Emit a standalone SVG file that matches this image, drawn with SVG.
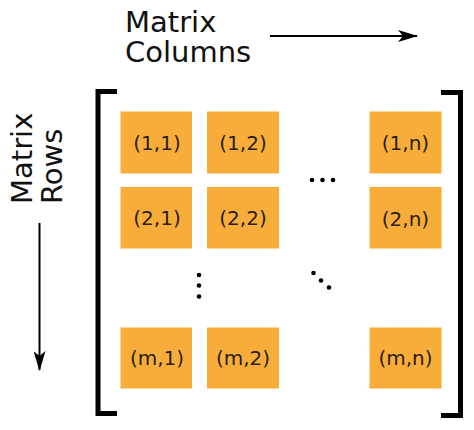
<svg xmlns="http://www.w3.org/2000/svg" width="474" height="430" viewBox="0 0 474 430">
  <style>
    .cell { fill: #F8AD3B; }
    .ct { font-family: "DejaVu Sans", Verdana, sans-serif; font-size: 20px; fill: #2a1e0c; text-anchor: middle; }
    .lbl { font-family: "DejaVu Sans", Verdana, sans-serif; font-size: 29px; fill: #111; }
    .br { fill: none; stroke: #000; stroke-width: 5; stroke-linejoin: miter; stroke-linecap: butt; }
    .ax { stroke: #000; stroke-width: 2; fill: none; }
    .dot { fill: #000; }
  </style>
  <defs>
    <marker id="ah" viewBox="0 0 20 12" refX="19" refY="6" markerWidth="20" markerHeight="12" markerUnits="userSpaceOnUse" orient="auto">
      <path d="M0,0 L20,6 L0,12 L5,6 Z" fill="#000"/>
    </marker>
  </defs>
  <rect width="474" height="430" fill="#fff"/>

  <g id="labels">
    <text class="lbl"><tspan x="125" y="32">Matrix</tspan><tspan x="125" y="62">Columns</tspan></text>
    <text class="lbl" transform="rotate(-90)"><tspan x="-204" y="32">Matrix</tspan><tspan x="-204" y="62">Rows</tspan></text>
  </g>

  <g id="connectors">
    <line class="ax" x1="270" y1="36" x2="417" y2="36" marker-end="url(#ah)"/>
    <line class="ax" x1="39.5" y1="223" x2="39.5" y2="370" marker-end="url(#ah)"/>
  </g>

  <g id="brackets">
    <path class="br" d="M117,91.5 H98 V413.5 H117"/>
    <path class="br" d="M441,92.5 H460.5 V415.5 H441"/>
  </g>

  <g id="c11"><rect class="cell" x="120.5" y="111.5" width="71.5" height="62"/><text class="ct" x="157" y="150">(1,1)</text></g>
  <g id="c12"><rect class="cell" x="207" y="111.5" width="72" height="62"/><text class="ct" x="243" y="150">(1,2)</text></g>
  <g id="c1n"><rect class="cell" x="369.5" y="111.5" width="72" height="62"/><text class="ct" x="405.5" y="150">(1,n)</text></g>
  <g id="c21"><rect class="cell" x="120.5" y="187" width="71.5" height="61.5"/><text class="ct" x="157" y="225">(2,1)</text></g>
  <g id="c22"><rect class="cell" x="207" y="187" width="72" height="61.5"/><text class="ct" x="243" y="225">(2,2)</text></g>
  <g id="c2n"><rect class="cell" x="369.5" y="187" width="72" height="61.5"/><text class="ct" x="405.5" y="226">(2,n)</text></g>
  <g id="cm1"><rect class="cell" x="120.5" y="327.5" width="71.5" height="61"/><text class="ct" x="157" y="365">(m,1)</text></g>
  <g id="cm2"><rect class="cell" x="207" y="327.5" width="72" height="61"/><text class="ct" x="243" y="365">(m,2)</text></g>
  <g id="cmn"><rect class="cell" x="369.5" y="327.5" width="72" height="61"/><text class="ct" x="405.5" y="365">(m,n)</text></g>

  <g id="ellipses">
    <circle class="dot" cx="312" cy="180" r="2.3"/>
    <circle class="dot" cx="322.5" cy="180" r="2.3"/>
    <circle class="dot" cx="333" cy="180" r="2.3"/>
    <circle class="dot" cx="199" cy="275" r="2.3"/>
    <circle class="dot" cx="199" cy="285.5" r="2.3"/>
    <circle class="dot" cx="199" cy="296.5" r="2.3"/>
    <circle class="dot" cx="313.5" cy="273" r="2.3"/>
    <circle class="dot" cx="321" cy="280.5" r="2.3"/>
    <circle class="dot" cx="329" cy="287.5" r="2.3"/>
  </g>
</svg>
